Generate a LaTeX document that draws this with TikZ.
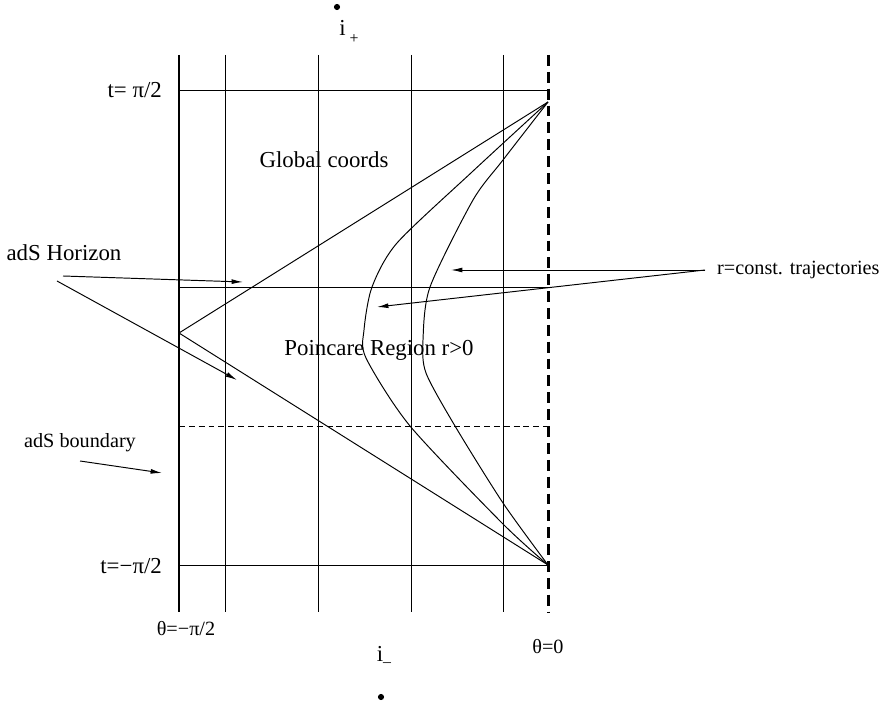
\documentclass[tikz,border=0pt]{standalone}
\usepackage{fontspec}
\setmainfont{Liberation Serif}
\usetikzlibrary{arrows.meta}
\begin{document}
\begin{tikzpicture}[x=0.02cm, y=-0.02cm, font=\fontsize{13}{15}\selectfont,
    thinline/.style={line width=0.55pt},
    small/.style={font=\fontsize{11.5}{13}\selectfont},
    pointer/.style={line width=0.55pt, -{Latex[length=6.5pt, width=2.8pt]}},
    dot/.style={circle, fill, inner sep=0pt, minimum size=3.5pt}]
  \useasboundingbox (0,0) rectangle (889,705);
  % grid of constant theta and t
  \foreach \x in {225,318,411,503}
    \draw[thinline] (\x,55) -- (\x,612);
  \foreach \y in {90,287,565}
    \draw[thinline] (179,\y) -- (548,\y);
  \draw[thinline, dash pattern=on 3.4pt off 2.2pt] (179,426) -- (548,426);
  \draw[line width=1.7pt] (179,55) -- (179,612);
  \draw[line width=1.7pt, dash pattern=on 6.2pt off 3.4pt] (548,55) -- (548,612);
  % Poincare patch
  \coordinate (top) at (548,102);
  \coordinate (bot) at (548,565);
  \coordinate (mid) at (179,333);
  \draw[thinline] (mid) -- (top);
  \draw[thinline] (mid) -- (bot);
  \draw[thinline] plot[smooth, tension=0.45] coordinates {(548,102) (472,172) (397,243) (372,287) (364,330) (366,358) (410,426) (503,524) (548,565)};
  \draw[thinline] plot[smooth, tension=0.45] coordinates {(548,102) (503,160) (473,200) (430,287) (423,340) (426,373) (455,426) (503,503) (548,565)};
  % labels
  \node (tplus) [anchor=east] at (168,90) {t= π/2};
  \node (tminus) [anchor=east] at (168,566) {t=−π/2};
  \node (thleft) [small] at (186,629) {θ=−π/2};
  \node (thzero) [small] at (548,647) {θ=0};
  \node (iplus) at (349,32) {i\,\raisebox{-0.7ex}{\small +}};
  \node (iminus) at (384,655) {i{\small\_}};
  \node[dot] (ptop) at (337,7) {};
  \node[dot] (pbot) at (381,697) {};
  \node (global) at (324,160) {Global coords};
  \node (poincare) at (379,350) {Poincare Region r>0};
  \node (horizon) at (64,253) {adS Horizon};
  \node (boundary) [small] at (80,443) {adS boundary};
  \node (traj) [small, anchor=west] at (711,270) {r=const. trajectories};
  % pointers
  \coordinate (hztail1) at (63,276);
  \coordinate (hztip1) at (243,282);
  \coordinate (hztail2) at (57,281);
  \coordinate (hztip2) at (237,380);
  \coordinate (bdtail) at (80,461);
  \coordinate (bdtip) at (162,473);
  \coordinate (trtail) at (705,270);
  \coordinate (trtip1) at (451,270);
  \coordinate (trtip2) at (377,307);
  \draw[pointer] (hztail1) -- (hztip1);
  \draw[pointer] (hztail2) -- (hztip2);
  \draw[pointer] (bdtail) -- (bdtip);
  \draw[pointer] (trtail) -- (trtip1);
  \draw[pointer] (trtail) -- (trtip2);
\end{tikzpicture}
\end{document}
